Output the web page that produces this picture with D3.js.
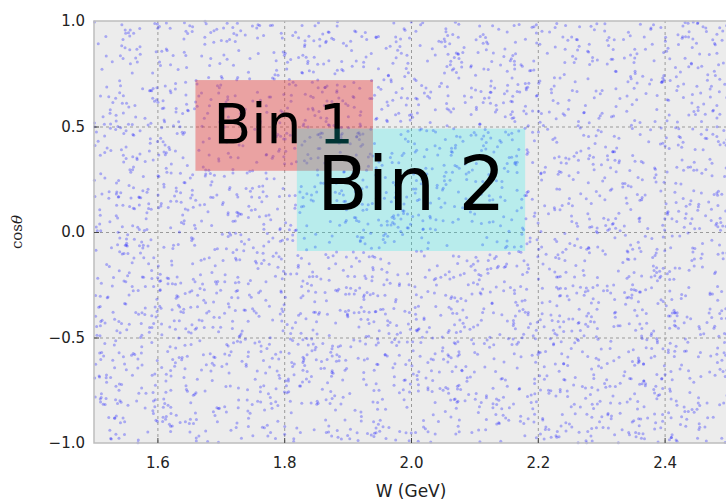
<!DOCTYPE html>
<html>
<head>
<meta charset="utf-8">
<style>
body { margin: 0; background: #fff; font-family: "DejaVu Sans", sans-serif; }
.axis text { fill: #222; font-size: 15px; font-family: "DejaVu Sans", sans-serif; }
.axis .domain { display: none; }
.grid line { stroke: #9a9a9a; stroke-dasharray: 3,3; stroke-width: 1; }
.grid .domain { display: none; }
</style>
<script src="https://d3js.org/d3.v7.min.js"></script>
</head>
<body>
<div id="chart"></div>
<script>
// axis ranges and ticks
var wRange = [1.5, 2.5];
var cosRange = [-1, 1];
var wTicks = [1.6, 1.8, 2.0, 2.2, 2.4];
var cosTicks = [-1.0, -0.5, 0.0, 0.5, 1.0];

// the two bins: [wMin, wMax], [cosMin, cosMax]
var binNames = ["Bin 1", "Bin 2"];
var binW = [[1.66, 1.94], [1.82, 2.18]];
var binCos = [[0.29, 0.72], [-0.09, 0.49]];
var binColors = ["rgba(232,60,60,0.42)", "rgba(0,235,235,0.22)"];
var binFont = [55, 74];

// event cloud: ~3200 events spread uniformly over the plot. The single
// points cannot be read off the picture, so a fixed-seed generator stands
// in for them (same picture every run).
var nEvents = 3200;
var eventSeed = 0.42;

var margin = {top: 21, right: -2, bottom: 57, left: 94},
    width = 726 - margin.left - margin.right,
    height = 500 - margin.top - margin.bottom;

var x = d3.scaleLinear().domain(wRange).range([0, width]);
var y = d3.scaleLinear().domain(cosRange).range([height, 0]);

var svg = d3.select("#chart").append("svg")
    .attr("width", 726)
    .attr("height", 500)
  .append("g")
    .attr("transform", "translate(" + margin.left + "," + margin.top + ")");

svg.append("rect")
    .attr("width", width)
    .attr("height", height)
    .attr("fill", "#ececec");

// grid
svg.append("g")
    .attr("class", "grid")
    .attr("transform", "translate(0," + height + ")")
    .call(d3.axisBottom(x).tickValues(wTicks).tickSize(-height).tickFormat(""));
svg.append("g")
    .attr("class", "grid")
    .call(d3.axisLeft(y).tickValues(cosTicks.slice(1, -1)).tickSize(-width).tickFormat(""));

// events
var rnd = d3.randomLcg(eventSeed);
var events = d3.range(nEvents).map(function() {
  return {w: wRange[0] + rnd() * (wRange[1] - wRange[0]),
          c: cosRange[0] + rnd() * (cosRange[1] - cosRange[0])};
});
svg.append("g").selectAll("circle")
    .data(events)
  .enter().append("circle")
    .attr("cx", function(d) { return x(d.w); })
    .attr("cy", function(d) { return y(d.c); })
    .attr("r", 1.5)
    .attr("fill", "#0a0aff")
    .attr("fill-opacity", 0.3);

// bins: box 1, label 1, then box 2 (it covers the end of "Bin 1"), label 2
var labelDx = [18, 20], labelDy = [16, 20], labelAt = [0.5, 0.2];
binNames.forEach(function(name, i) {
  svg.append("rect")
      .attr("x", x(binW[i][0]))
      .attr("y", y(binCos[i][1]))
      .attr("width", x(binW[i][1]) - x(binW[i][0]))
      .attr("height", y(binCos[i][0]) - y(binCos[i][1]))
      .attr("fill", binColors[i]);
  svg.append("text")
      .attr("x", x(binW[i][0]) + labelDx[i])
      .attr("y", y(labelAt[i]) + labelDy[i])
      .attr("font-size", binFont[i])
      .attr("fill", "#000")
      .text(name);
});

// frame
svg.append("path")
    .attr("d", "M" + width + ",0H0V" + height + "H" + width)
    .attr("fill", "none")
    .attr("stroke", "#bdbdbd")
    .attr("stroke-width", 1.5);

// axes with inward ticks
var fmt = function(d) { return d3.format(".1f")(d).replace("-", "\u2212"); };
svg.append("g")
    .attr("class", "axis")
    .attr("transform", "translate(0," + height + ")")
    .call(d3.axisBottom(x).tickValues(wTicks).tickSize(-5).tickPadding(14).tickFormat(fmt));
var yAxis = svg.append("g")
    .attr("class", "axis")
    .call(d3.axisLeft(y).tickValues(cosTicks).tickSize(-5).tickPadding(9).tickFormat(fmt));
svg.selectAll(".axis .tick line").attr("stroke", "#444");
yAxis.selectAll(".tick").filter(function(d) { return d === 1 || d === -1; }).select("line").remove();

svg.append("text")
    .attr("x", x(2.0))
    .attr("y", height + 54)
    .attr("text-anchor", "middle")
    .attr("font-size", 17)
    .attr("fill", "#222")
    .text("W (GeV)");

svg.append("text")
    .attr("transform", "translate(-72," + y(0) + ") rotate(-90)")
    .attr("text-anchor", "middle")
    .attr("font-family", "'DejaVu Serif', serif")
    .attr("font-size", 15)
    .attr("fill", "#222")
    .html("cos<tspan font-style='italic'>\u03b8</tspan>");
</script>
</body>
</html>
